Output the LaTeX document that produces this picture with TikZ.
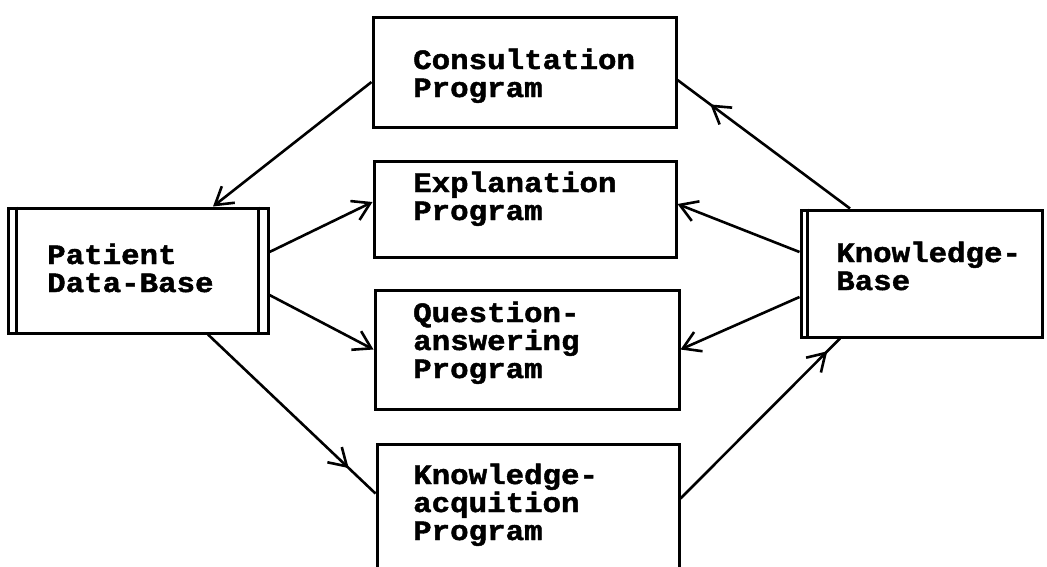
\documentclass[tikz,border=0pt]{standalone}
\usepackage{fontspec}
\newfontfamily\typefont{Liberation Mono Bold}[FakeBold=1.6,FakeStretch=1.1]
\usetikzlibrary{arrows.meta,decorations.markings}
\begin{document}
\begin{tikzpicture}[x=1pt,y=-1pt,
  box/.style={draw, line width=3pt, inner sep=0pt},
  txt/.style={font=\typefont\fontsize{28}{28}\selectfont, anchor=base west, inner sep=0pt, align=left},
  link/.style={line width=2.6pt, -{Straight Barb[length=17pt,width=21pt]}},
  midlink/.style={line width=2.6pt, postaction={decorate},
    decoration={markings, mark=at position #1 with {\arrow{Straight Barb[length=17pt,width=21pt]}}}}]
\useasboundingbox (0,0) rectangle (1047,566);
\clip (0,0) rectangle (1047,566);

% boxes
\node[box, minimum width=303pt, minimum height=110pt] (cp) at (524.5,72) {};
\node[box, minimum width=302pt, minimum height=96pt] (ep) at (525,209) {};
\node[box, minimum width=304pt, minimum height=119pt] (qa) at (527,349.5) {};
\node[box, minimum width=302pt, minimum height=160pt] (ka) at (528,524) {};
\node[box, minimum width=260pt, minimum height=125pt] (pdb) at (138,270.5) {};
\node[box, minimum width=241pt, minimum height=127pt] (kb) at (921.5,273.5) {};

% doubled sides of the data stores
\draw[line width=2.6pt] ([xshift=10pt]pdb.north west) -- ([xshift=10pt]pdb.south west);
\draw[line width=2.6pt] ([xshift=-11pt]pdb.north east) -- ([xshift=-11pt]pdb.south east);
\draw[line width=2.6pt] ([xshift=8pt]kb.north west) -- ([xshift=8pt]kb.south west);

% labels (placed at the baseline of the last line)
\node[txt] (cpt) at (413,97) {Consultation\\Program};
\node[txt] (ept) at (413,220) {Explanation\\Program};
\node[txt] (qat) at (413,378) {Question-\\answering\\Program};
\node[txt] (kat) at (413,540) {Knowledge-\\acquition\\Program};
\node[txt] (pdbt) at (47,292) {Patient\\Data-Base};
\node[txt] (kbt) at (836,290) {Knowledge-\\Base};

% connectors
\draw[link] ([yshift=-10pt]cp.west) -- ([xshift=75pt]pdb.north);
\draw[link] ([yshift=18.5pt]pdb.east) -- ([yshift=7pt]ep.west);
\draw[link] ([yshift=-24.5pt]pdb.east) -- (qa.west);
\draw[midlink=0.84] ([xshift=70pt]pdb.south) -- ([yshift=-51pt]ka.north west);
\draw[midlink=0.81] ([xshift=-71.5pt]kb.north) -- ([yshift=-8pt]cp.east);
\draw[link] ([yshift=21.5pt]kb.west) -- ([yshift=5pt]ep.east);
\draw[link] ([yshift=-23.5pt]kb.west) -- (qa.east);
\draw[midlink=0.92] ([yshift=-56pt]ka.north east) -- ([xshift=-81.5pt]kb.south);
\end{tikzpicture}
\end{document}
